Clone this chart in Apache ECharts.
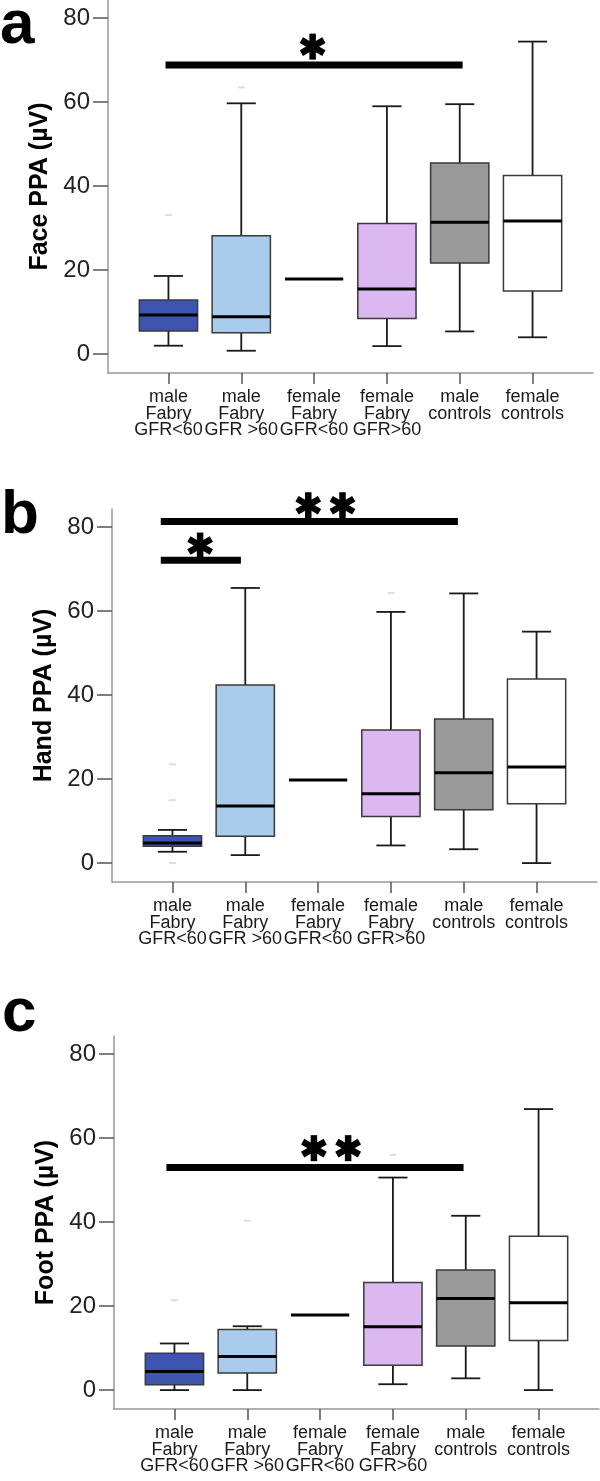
<!DOCTYPE html>
<html><head><meta charset="utf-8">
<script src="https://cdn.jsdelivr.net/npm/echarts@6/dist/echarts.min.js"></script>
<style>html,body{margin:0;padding:0;background:#fff}#c{width:600px;height:1481px}</style>
</head><body><div id="c"></div>
<script>
// ---------- data ----------
const categories = ['male\nFabry\nGFR<60','male\nFabry\nGFR >60','female\nFabry\nGFR<60','female\nFabry\nGFR>60','male\ncontrols','female\ncontrols'];
const boxColors = ['#3d55ae','#a9cced','#ffffff','#dcb8f0','#9a9a9a','#ffffff'];
const yTicks = [0,20,40,60,80];
const catTicks = [0,1,2,3,4,5];
const panelLetters = ['a','b','c'];
const yNames = ['Face PPA (µV)','Hand PPA (µV)','Foot PPA (µV)'];
// [low whisker, Q1, median, Q3, high whisker]
const faceBoxes = [[2.0,5.5,9.3,12.9,18.6],[0.8,5.1,8.9,28.2,59.7],[17.9,17.9,17.9,17.9,17.9],[1.9,8.5,15.5,31.1,59.0],[5.4,21.7,31.4,45.5,59.5],[4.0,15.0,31.7,42.5,74.4]];
const handBoxes = [[2.7,4.0,4.8,6.5,7.9],[1.9,6.4,13.6,42.4,65.5],[19.8,19.8,19.8,19.8,19.8],[4.2,11.1,16.5,31.7,59.8],[3.3,12.7,21.5,34.3,64.2],[0.0,14.1,22.9,43.8,55.1]];
const footBoxes = [[0.0,1.3,4.4,8.8,11.1],[0.0,4.1,8.0,14.4,15.2],[17.9,17.9,17.9,17.9,17.9],[1.4,5.9,15.1,25.6,50.6],[2.8,10.5,21.8,28.6,41.5],[0.0,11.8,20.8,36.6,66.9]];
// [category, value]
const faceOutliers = [[0,33.1],[1,63.5]];
const handOutliers = [[0,23.5],[0,15.0],[0,0.0],[3,64.3]];
const footOutliers = [[0,21.4],[1,40.3],[3,56.0]];
// significance bars [from, to, y]
const faceSigBars = [[-0.04,4.04,68.8]];
const handSigBars = [[-0.16,3.92,81.3],[-0.16,0.94,72.1]];
const footSigBars = [[-0.11,3.97,53.0]];
// asterisks [x centre, y, count]
const faceStars = [[1.98,73.2,1]];
const handStars = [[2.10,85.2,2],[0.38,75.6,1]];
const footStars = [[2.15,57.6,2]];

const panels = [
  {boxes: faceBoxes, outliers: faceOutliers, bars: faceSigBars, stars: faceStars},
  {boxes: handBoxes, outliers: handOutliers, bars: handSigBars, stars: handStars},
  {boxes: footBoxes, outliers: footOutliers, bars: footSigBars, stars: footStars}
];

// ---------- layout ----------
const gridPos = [{left:108, top:0}, {left:112, top:509}, {left:114, top:1036}];
const letterPos = [{x:0, y:26}, {x:1, y:516}, {x:2, y:1014}];
const FONT = 'Liberation Sans, Arial, sans-serif';

function ln(x1,y1,x2,y2,color,w,cap){
  return {type:'line', shape:{x1,y1,x2,y2}, style:{stroke:color, lineWidth:w, lineCap:cap||'butt'}};
}
function renderBox(params, api){
  const i = api.value(0), lo=api.value(1), q1=api.value(2), md=api.value(3), q3=api.value(4), hi=api.value(5);
  const w = api.size([0.8,0])[0], cw = api.size([0.4,0])[0];
  const pLo=api.coord([i,lo]), pQ1=api.coord([i,q1]), pMd=api.coord([i,md]), pQ3=api.coord([i,q3]), pHi=api.coord([i,hi]);
  const x = pMd[0];
  const ch = [];
  if (hi > lo) {
    ch.push(ln(x,pHi[1],x,pQ3[1],'#1a1a1a',1.8));
    ch.push(ln(x,pQ1[1],x,pLo[1],'#1a1a1a',1.8));
    ch.push(ln(x-cw/2,pHi[1],x+cw/2,pHi[1],'#1a1a1a',1.8));
    ch.push(ln(x-cw/2,pLo[1],x+cw/2,pLo[1],'#1a1a1a',1.8));
    ch.push({type:'rect', shape:{x:x-w/2, y:pQ3[1], width:w, height:pQ1[1]-pQ3[1]},
             style:{fill:boxColors[i], stroke:'#3a3a3a', lineWidth:1.5}});
  }
  ch.push(ln(x-w/2,pMd[1],x+w/2,pMd[1],'#000',3));
  return {type:'group', children:ch};
}
function renderBar(params, api){
  const a = api.coord([api.value(0), api.value(2)]);
  const b = api.coord([api.value(1), api.value(2)]);
  return ln(a[0],a[1],b[0],a[1],'#000',7);
}
function renderStars(params, api){
  const n = api.value(2);
  const ch = [];
  const sp = api.size([0.47,0])[0];
  const c = api.coord([api.value(0), api.value(1)]);
  const r = 13;
  for (let k=0;k<n;k++){
    const cx = c[0] + (k-(n-1)/2)*sp, cy = c[1];
    [90,30,150].forEach(function(deg){
      const t = deg*Math.PI/180;
      ch.push(ln(cx-r*Math.cos(t), cy-r*Math.sin(t), cx+r*Math.cos(t), cy+r*Math.sin(t), '#000', 6.5));
    });
  }
  return {type:'group', children:ch};
}

const grids=[], xAxes=[], yAxes=[], series=[], graphics=[];
panels.forEach(function(p, k){
  grids.push({left:gridPos[k].left, top:gridPos[k].top, width:485, height:373, containLabel:false, outerBoundsMode:'none'});
  xAxes.push({
    type:'value', gridIndex:k, min:-0.83, max:5.83,
    axisLine:{show:true, onZero:false, lineStyle:{color:'#999', width:1.5}},
    axisTick:{show:true, length:11, customValues:catTicks, lineStyle:{color:'#555', width:1.5}},
    axisLabel:{customValues:catTicks, formatter:function(v){return categories[Math.round(v)];},
      fontSize:18, lineHeight:16.5, margin:16, color:'#1a1a1a', fontFamily:FONT},
    splitLine:{show:false}
  });
  yAxes.push({
    type:'value', gridIndex:k, min:-4.5, max:84.3,
    name:yNames[k], nameLocation:'middle', nameGap:55, nameMoveOverlap:false,
    nameTextStyle:{fontSize:25, fontWeight:'bold', color:'#000', fontFamily:FONT},
    axisLine:{show:true, onZero:false, lineStyle:{color:'#999', width:1.5}},
    axisTick:{show:true, length:15, customValues:yTicks, lineStyle:{color:'#555', width:1.5}},
    axisLabel:{customValues:yTicks, fontSize:24, margin:18, color:'#222', fontFamily:FONT},
    splitLine:{show:false}
  });
  series.push({type:'custom', xAxisIndex:k, yAxisIndex:k, renderItem:renderBox,
    data:p.boxes.map(function(b,i){return [i].concat(b);}), silent:true, clip:false});
  series.push({type:'scatter', xAxisIndex:k, yAxisIndex:k, symbol:'rect', symbolSize:[7,2],
    itemStyle:{color:'#d6d6d6'}, data:p.outliers, silent:true});
  series.push({type:'custom', xAxisIndex:k, yAxisIndex:k, renderItem:renderBar, data:p.bars, silent:true, clip:false});
  series.push({type:'custom', xAxisIndex:k, yAxisIndex:k, renderItem:renderStars, data:p.stars, silent:true, clip:false});
  graphics.push({type:'text', x:letterPos[k].x, y:letterPos[k].y,
    style:{text:panelLetters[k], fontSize:62, fontWeight:'bold', fontFamily:FONT, fill:'#000', verticalAlign:'middle'}});
});

const chart = echarts.init(document.getElementById('c'), null, {renderer:'canvas'});
chart.setOption({
  animation:false,
  backgroundColor:'#fff',
  grid:grids, xAxis:xAxes, yAxis:yAxes, series:series, graphic:graphics
});
</script>
</body></html>
